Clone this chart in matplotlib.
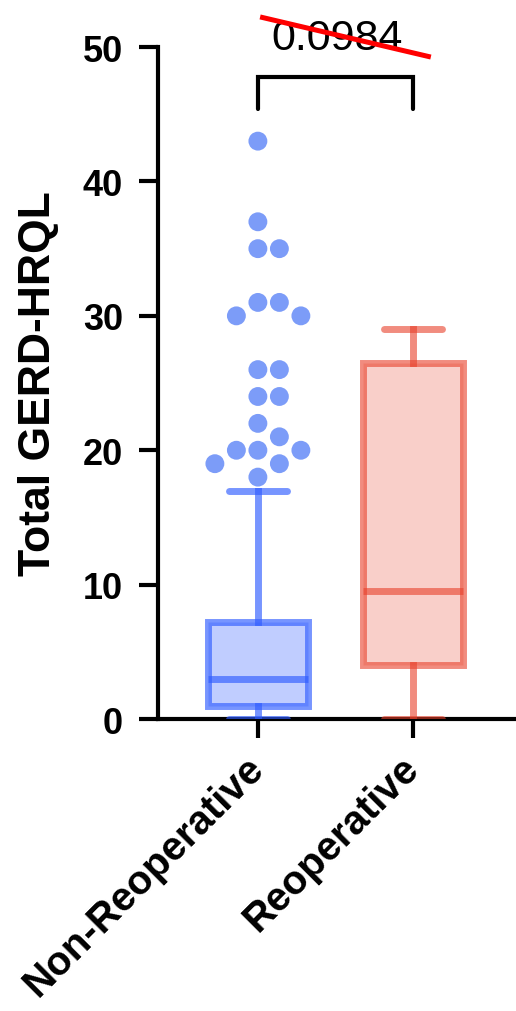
import numpy as np
import matplotlib
matplotlib.use("Agg")
from matplotlib import pyplot as plt

plt.rcParams['font.family'] = ['Liberation Sans', 'DejaVu Sans']

# groups and box statistics
groups = ["Non-Reoperative", "Reoperative"]
q1 = [1.0, 4.0]
median = [3.0, 9.5]
q3 = [7.25, 26.5]
whisker_lo = [0.0, 0.0]
whisker_hi = [17.0, 29.0]
# outliers of the non-reoperative group
outliers = [43, 37, 35, 35, 31, 31, 30, 30, 26, 26, 24, 24,
            22, 21, 20, 20, 20, 19, 19, 18]
p_value = "0.0984"
y_ticks = [0, 10, 20, 30, 40, 50]

colors = ["#2f5cff", "#e8402a"]
line_alpha = [0.65, 0.6]
face_alpha = [0.3, 0.25]
point_color = "#7c9cf8"


def swarm_offsets(values, px_per_x, px_per_y, diam):
    """Greedy beeswarm: push each point sideways until it does not overlap."""
    placed = []
    steps = [0]
    for k in range(1, 12):
        steps += [k * 0.5, -k * 0.5]
    for v in values:
        for s in steps:
            x_px = s * diam
            y_px = v * px_per_y
            ok = all((x_px - px) ** 2 + (y_px - py) ** 2 >= (diam * 0.98) ** 2
                     for px, py in placed)
            if ok:
                placed.append((x_px, y_px))
                break
    return [p[0] / px_per_x for p in placed]


fig = plt.figure(figsize=(5.16, 10.12), dpi=100)
ax = fig.add_axes([0.306, 0.2885, 0.694, 0.664])

x_lim = (-0.645, 1.665)
y_lim = (0, 50)
ax.set_xlim(*x_lim)
ax.set_ylim(*y_lim)

stats = []
for i in range(2):
    stats.append(dict(med=median[i], q1=q1[i], q3=q3[i],
                      whislo=whisker_lo[i], whishi=whisker_hi[i],
                      fliers=[], label=groups[i]))

for i in range(2):
    lc = matplotlib.colors.to_rgba(colors[i], line_alpha[i])
    fc = matplotlib.colors.to_rgba(colors[i], face_alpha[i])
    ax.bxp([stats[i]], positions=[i], widths=0.65, capwidths=0.375,
           patch_artist=True, showfliers=False, manage_ticks=False,
           boxprops=dict(facecolor=fc, edgecolor=lc, linewidth=5),
           whiskerprops=dict(color=lc, linewidth=5),
           capprops=dict(color=lc, linewidth=5, solid_capstyle='round'),
           medianprops=dict(color=lc, linewidth=5),
           zorder=3)

# outlier points spread as a swarm
fig_w_px = fig.get_figwidth() * fig.dpi
fig_h_px = fig.get_figheight() * fig.dpi
px_per_x = 0.694 * fig_w_px / (x_lim[1] - x_lim[0])
px_per_y = 0.664 * fig_h_px / (y_lim[1] - y_lim[0])
offs = swarm_offsets(outliers, px_per_x, px_per_y, 21.5)
ax.scatter(np.array(offs), outliers, s=185, color=point_color,
           edgecolors='none', zorder=4, clip_on=False)

# significance bracket
ax.plot([0, 0, 1, 1], [45.4, 47.8, 47.8, 45.4], color='black', lw=3,
        clip_on=False, solid_capstyle='round', solid_joinstyle='miter')
ax.text(0.51, 49.85, p_value, ha='center', va='baseline', fontsize=31,
        clip_on=False)
ax.plot([0.03, 1.10], [52.2, 49.3], color='red', lw=3.6, clip_on=False,
        zorder=5)

# axes styling
for side in ['top', 'right']:
    ax.spines[side].set_visible(False)
for side in ['left', 'bottom']:
    ax.spines[side].set_linewidth(3)
ax.set_yticks(y_ticks)
ax.set_yticklabels([str(t) for t in y_ticks], fontsize=26, fontweight='bold')
ax.set_xticks([0, 1])
ax.set_xticklabels(groups, fontsize=29, fontweight='bold', rotation=45,
                   ha='right', va='center', rotation_mode='anchor')
ax.tick_params(axis='y', length=14, width=3, pad=11)
ax.tick_params(axis='x', length=14, width=3, pad=17)
ax.set_ylabel("Total GERD-HRQL", fontsize=32, fontweight='bold')
ax.yaxis.set_label_coords(-0.275, 0.5)

fig.savefig("out.png", dpi=100)
